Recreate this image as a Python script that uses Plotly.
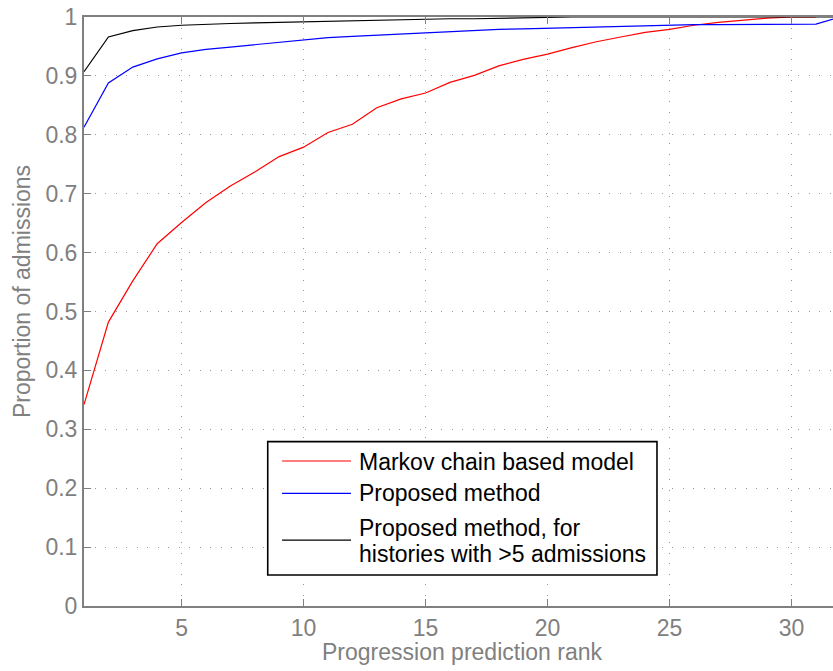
import plotly.graph_objects as go

# Cumulative proportion of admissions whose true progression is within rank k
rank_markov = list(range(1, 32))
markov = [0.342, 0.482, 0.552, 0.615, 0.651, 0.685, 0.713, 0.737, 0.763, 0.779,
          0.804, 0.818, 0.846, 0.861, 0.871, 0.889, 0.901, 0.917, 0.928, 0.937,
          0.948, 0.958, 0.966, 0.974, 0.979, 0.986, 0.991, 0.995, 0.998, 1.0, 1.0]

rank_proposed = list(range(1, 33))
proposed = [0.813, 0.888, 0.915, 0.929, 0.939, 0.945, 0.949, 0.953, 0.958, 0.961,
            0.965, 0.967, 0.969, 0.971, 0.9735, 0.976, 0.977, 0.979, 0.980, 0.981,
            0.983, 0.984, 0.985, 0.986, 0.986, 0.987, 0.987, 0.987, 0.9875, 0.9875,
            0.988, 1.0]

rank_long = list(range(1, 33))
proposed_long = [0.907, 0.966, 0.977, 0.983, 0.986, 0.988, 0.989, 0.990, 0.991, 0.992,
                 0.993, 0.994, 0.995, 0.995, 0.996, 0.997, 0.997, 0.998, 0.999, 0.999,
                 1.0, 1.0, 1.0, 1.0, 1.0, 1.0, 1.0, 1.0, 1.0, 1.0, 1.0, 1.0]

series_names = ["Markov chain based model", "Proposed method",
                "Proposed method, for<br>histories with >5 admissions"]
series_colors = ["#ff0000", "#0000ff", "#000000"]

x_ticks = [5, 10, 15, 20, 25, 30]
y_ticks = [0, 0.1, 0.2, 0.3, 0.4, 0.5, 0.6, 0.7, 0.8, 0.9, 1]

FONT = "Liberation Sans, Arial, sans-serif"
GREY = "#808080"
FS = 23

fig = go.Figure()
for xs, ys, name, color in zip([rank_markov, rank_proposed, rank_long],
                               [markov, proposed, proposed_long],
                               series_names, series_colors):
    fig.add_trace(go.Scatter(x=xs, y=ys, mode="lines", name=name,
                             line=dict(color=color, width=1.2), showlegend=False))

# Boxed legend in the lower middle of the axes
fig.add_shape(type="rect", xref="paper", yref="paper",
              x0=0.2453, x1=0.765, y0=0.0526, y1=0.279,
              line=dict(color="black", width=1.6), fillcolor="white", layer="above")
sample_y = [0.2462, 0.1913, 0.112]
for color, yy in zip(series_colors, sample_y):
    fig.add_shape(type="line", xref="paper", yref="paper",
                  x0=0.2644, x1=0.3565, y0=yy, y1=yy,
                  line=dict(color=color, width=1.2), layer="above")
# legend labels, one annotation per text line (pixel rows converted to paper units)
label_lines = ["Markov chain based model", "Proposed method",
               "Proposed method, for", "histories with >5 admissions"]
label_y = [(606 - r) / 589 for r in (461.5, 493, 527.5, 554)]
for txt, yy in zip(label_lines, label_y):
    fig.add_annotation(xref="paper", yref="paper", x=0.3645, y=yy,
                       xanchor="left", yanchor="middle", align="left",
                       text=txt, showarrow=False,
                       font=dict(family=FONT, size=FS, color="black"))

# axis titles
fig.add_annotation(xref="paper", yref="paper", x=(462.5 - 84) / 749,
                   y=(606 - 652) / 589, xanchor="center", yanchor="middle",
                   text="Progression prediction rank", showarrow=False,
                   font=dict(family=FONT, size=FS, color=GREY))
fig.add_annotation(xref="paper", yref="paper", x=(21.5 - 84) / 749,
                   y=(606 - 291.5) / 589, xanchor="center", yanchor="middle",
                   textangle=-90, text="Proportion of admissions", showarrow=False,
                   font=dict(family=FONT, size=FS, color=GREY))

fig.update_layout(
    width=833, height=671,
    margin=dict(l=84, r=0, t=17, b=65),
    paper_bgcolor="white", plot_bgcolor="white",
    font=dict(family=FONT, size=FS, color=GREY),
    xaxis=dict(
        range=[1, 31.7], tickvals=x_ticks, ticks="inside", ticklen=7,
        tickcolor=GREY, tickwidth=1.2, showline=True, linecolor=GREY, linewidth=2,
        mirror="ticks", showgrid=True, gridcolor="#9a9a9a", gridwidth=1,
        griddash="1px,9.5px", zeroline=False,
        tickfont=dict(family=FONT, size=FS, color=GREY),
    ),
    yaxis=dict(
        range=[0, 1], tickvals=y_ticks, ticks="inside", ticklen=7,
        tickcolor=GREY, tickwidth=1.2, showline=True, linecolor=GREY, linewidth=2,
        mirror=False, showgrid=True, gridcolor="#9a9a9a", gridwidth=1,
        griddash="1px,9.5px", zeroline=False,
        tickfont=dict(family=FONT, size=FS, color=GREY),
    ),
)

fig.write_html("out.html")
